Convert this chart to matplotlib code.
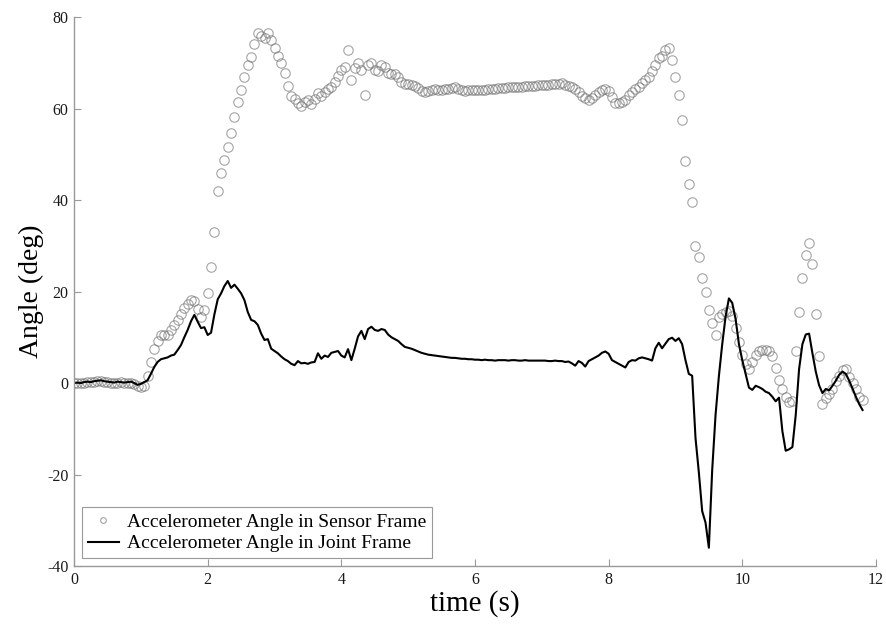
import numpy as np
import matplotlib
matplotlib.use('Agg')
import matplotlib.pyplot as plt

plt.rcParams['font.family'] = ['Liberation Serif', 'DejaVu Serif']
plt.rcParams['axes.unicode_minus'] = False

# time base: 0.05 s steps, 0 .. 11.8 s
time = np.round(np.arange(237) * 0.05, 2)

# accelerometer angle in sensor frame (deg)
sensor_angle = [
    0.0, 0.1, 0.0, 0.1, 0.2, 0.2, 0.3, 0.4, 0.4, 0.3, 0.2, 0.1, 0.0, 0.1, 0.2, 0.0, -0.1, 0.0, -0.3, -0.6,
    -0.8, -0.6, 1.5, 4.5, 7.5, 9.2, 10.4, 10.6, 10.5, 11.6, 12.6, 13.8, 15.0, 16.5, 17.3, 18.2, 18.0, 16.2, 14.5, 16.0,
    19.6, 25.4, 33.0, 42.0, 45.8, 48.8, 51.7, 54.6, 58.2, 61.5, 64.0, 67.0, 69.5, 71.3, 74.2, 76.4, 75.8, 75.5, 76.4, 75.0,
    73.2, 71.5, 70.0, 67.7, 65.0, 62.8, 62.0, 61.3, 60.6, 61.5, 61.8, 61.0, 62.0, 63.3, 62.8, 63.6, 64.3, 64.8, 65.8, 67.2,
    68.4, 69.0, 72.8, 66.2, 68.8, 69.9, 68.5, 63.0, 69.5, 69.9, 68.4, 68.3, 69.6, 69.0, 67.8, 67.5, 67.6, 66.8, 65.8, 65.4,
    65.4, 65.2, 65.0, 64.4, 63.8, 63.7, 63.9, 64.1, 64.2, 64.0, 64.1, 64.2, 64.3, 64.5, 64.6, 64.2, 64.0, 63.9, 64.0, 64.1,
    64.0, 64.1, 64.1, 64.0, 64.2, 64.3, 64.3, 64.5, 64.4, 64.5, 64.6, 64.6, 64.7, 64.7, 64.8, 64.9, 64.9, 65.0, 65.0, 65.1,
    65.1, 65.2, 65.2, 65.3, 65.4, 65.4, 65.5, 65.2, 64.9, 64.6, 64.2, 63.6, 62.8, 62.3, 61.9, 62.3, 62.9, 63.6, 64.1, 64.3,
    63.8, 62.6, 61.3, 61.2, 61.5, 61.8, 63.0, 63.6, 64.2, 64.8, 65.6, 66.3, 67.0, 68.2, 69.5, 71.0, 71.4, 72.8, 73.2, 70.5,
    67.0, 63.0, 57.5, 48.5, 43.5, 39.6, 30.0, 27.5, 23.0, 20.0, 16.0, 13.2, 10.5, 14.5, 15.0, 15.6, 15.8, 14.6, 12.0, 9.0,
    6.2, 4.2, 3.0, 4.5, 6.2, 7.0, 7.2, 7.2, 7.0, 5.8, 3.3, 0.6, -1.3, -3.1, -4.2, -4.0, 7.0, 15.5, 23.0, 28.0,
    30.5, 26.0, 15.0, 6.0, -4.5, -3.2, -2.3, -1.2, 0.5, 1.6, 2.9, 3.0, 1.4, 0.1, -1.3, -3.0, -3.8,
]

# accelerometer angle in joint frame (deg)
joint_angle = [
    0.0, 0.1, 0.0, 0.2, 0.3, 0.2, 0.4, 0.5, 0.6, 0.4, 0.3, 0.2, 0.1, 0.3, 0.2, 0.1, 0.2, 0.3, 0.0, -0.4,
    -0.2, 0.2, 0.6, 2.0, 3.5, 4.6, 5.2, 5.4, 5.6, 6.0, 6.2, 7.2, 8.3, 10.0, 11.6, 13.5, 14.9, 13.4, 12.0, 12.2,
    10.5, 11.0, 15.0, 18.3, 19.6, 21.2, 22.3, 20.8, 21.5, 20.6, 19.6, 18.1, 15.5, 13.8, 13.5, 12.7, 10.8, 9.4, 9.6, 7.5,
    7.0, 6.5, 5.8, 5.2, 4.8, 4.2, 3.9, 4.8, 4.3, 4.4, 4.2, 4.5, 4.6, 6.5, 5.3, 6.0, 5.7, 6.6, 6.8, 7.0,
    6.0, 5.6, 7.4, 5.0, 7.5, 10.2, 11.4, 9.6, 11.8, 12.3, 11.6, 11.4, 11.8, 11.6, 10.6, 10.0, 9.6, 9.2, 8.5, 7.9,
    7.7, 7.5, 7.2, 6.9, 6.6, 6.4, 6.2, 6.1, 6.0, 5.9, 5.8, 5.7, 5.6, 5.5, 5.5, 5.4, 5.3, 5.3, 5.2, 5.2,
    5.1, 5.1, 5.0, 5.1, 5.0, 5.0, 4.9, 5.0, 5.0, 5.0, 4.9, 5.0, 5.0, 4.9, 4.9, 5.0, 4.9, 4.9, 4.9, 4.9,
    4.9, 4.9, 4.8, 4.8, 4.9, 4.8, 4.8, 4.6, 4.7, 4.3, 3.8, 4.8, 4.4, 3.6, 4.8, 5.2, 5.6, 6.0, 6.6, 6.9,
    6.4, 5.0, 4.6, 4.2, 3.8, 3.4, 4.6, 5.0, 4.9, 5.4, 5.6, 5.4, 5.2, 4.9, 7.6, 8.8, 7.6, 8.6, 9.6, 9.9,
    9.2, 9.8, 8.5, 5.0, 2.0, 1.6, -12.0, -19.5, -28.0, -30.5, -36.0, -19.0, -7.0, 1.5, 8.5, 14.5, 18.5, 17.5, 14.0, 8.5,
    5.0, 2.0, -1.0, -1.5, -0.6, -0.9, -1.3, -1.9, -2.2, -3.0, -4.0, -3.2, -10.5, -14.8, -14.5, -14.0, -7.0, 3.0, 8.5, 10.6,
    10.8, 6.5, 2.5, -0.5, -2.2, -1.3, -1.6, -0.6, 0.5, 1.8, 2.5, 2.0, 0.5, -1.2, -3.0, -4.6, -5.9,
]

fig = plt.figure(figsize=(8.87, 6.26), dpi=100)
ax = fig.add_axes([0.0835, 0.0958, 0.904, 0.877])

ax.plot(time, sensor_angle, linestyle='none', marker='o', markersize=6.8,
        markerfacecolor='none', markeredgecolor=(0.45, 0.45, 0.45, 0.65),
        markeredgewidth=0.8, label='Accelerometer Angle in Sensor Frame')
ax.plot(time, joint_angle, color='black', linewidth=1.5,
        label='Accelerometer Angle in Joint Frame')

ax.set_xlim(0, 12)
ax.set_ylim(-40, 80)
ax.set_xticks(range(0, 13, 2))
ax.set_yticks(range(-40, 81, 20))
ax.set_xlabel('time (s)', fontsize=21, labelpad=2)
ax.set_ylabel('Angle (deg)', fontsize=20, labelpad=2)

for side in ['top', 'right']:
    ax.spines[side].set_visible(False)
for side in ['left', 'bottom']:
    ax.spines[side].set_color('0.6')
    ax.spines[side].set_linewidth(1.0)
ax.tick_params(direction='in', length=5, color='0.6', labelsize=11.5,
               labelcolor='0.1', pad=4)

leg = ax.legend(loc='lower left', fontsize=14, fancybox=False, framealpha=1,
                edgecolor='0.6', borderpad=0.3, labelspacing=0.2,
                handlelength=1.6, handletextpad=0.4, borderaxespad=0.4,
                markerscale=0.6)
leg.get_frame().set_linewidth(0.8)

fig.savefig('out.png', dpi=100)
